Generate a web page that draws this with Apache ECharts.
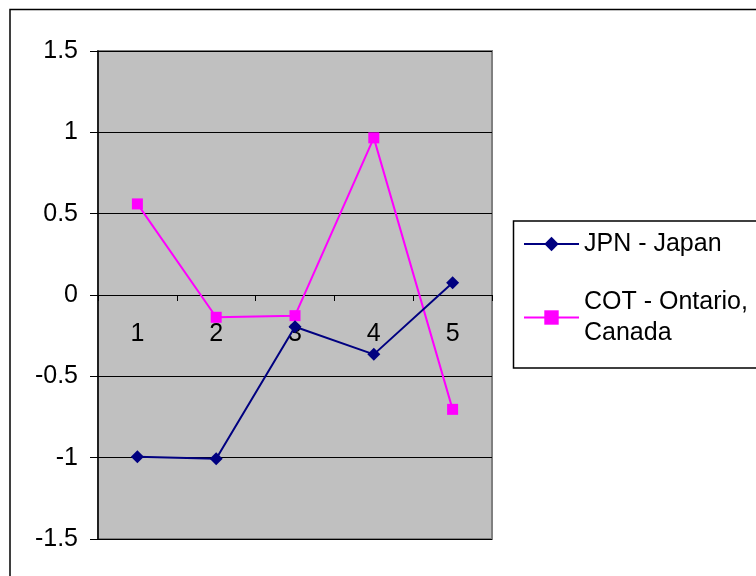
<!DOCTYPE html>
<html>
<head>
<meta charset="utf-8">
<script src="https://cdn.jsdelivr.net/npm/echarts@6/dist/echarts.min.js"></script>
<style>
  html, body { margin: 0; padding: 0; background: #fff; }
  #chart { width: 756px; height: 576px; }
</style>
</head>
<body>
<div id="chart"></div>
<script>
// Category labels along the zero line
const categories = ['1', '2', '3', '4', '5'];

// Series values
const jpnName = 'JPN - Japan';
const jpnValues = [-0.995, -1.007, -0.195, -0.365, 0.076];

const cotName = 'COT - Ontario, Canada';
const cotValues = [0.56, -0.137, -0.127, 0.966, -0.703];

// Value axis range and step
const yMin = -1.5;
const yMax = 1.5;
const yStep = 0.5;

const FONT = 'Liberation Sans, Arial, sans-serif';

// Plot rectangle
const gridTop = 51;
const gridBottom = 37;
const plotHeight = 576 - gridTop - gridBottom;
// lift the category axis from the bottom edge up to the zero line
const zeroLift = plotHeight * (0 - yMin) / (yMax - yMin);

const chart = echarts.init(document.getElementById('chart'), null, { renderer: 'canvas' });

chart.setOption({
  animation: false,
  backgroundColor: '#ffffff',
  textStyle: { fontFamily: FONT },
  graphic: [
    {
      // outer chart frame
      type: 'rect',
      shape: { x: 10, y: 9.5, width: 800, height: 620 },
      style: { fill: null, stroke: '#000', lineWidth: 1.5 },
      silent: true,
      z: -1
    },
    {
      // legend frame
      type: 'rect',
      shape: { x: 513.5, y: 221, width: 300, height: 147 },
      style: { fill: '#fff', stroke: '#000', lineWidth: 1.5 },
      silent: true,
      z: 0
    }
  ],
  grid: {
    left: 98,
    top: gridTop,
    right: 264,
    bottom: gridBottom,
    show: true,
    backgroundColor: '#C0C0C0',
    borderColor: '#808080',
    borderWidth: 2
  },
  legend: [
    {
      data: [jpnName],
      left: 523,
      top: 229,
      padding: 0,
      itemWidth: 55,
      itemHeight: 18,
      textStyle: { fontFamily: FONT, fontSize: 25, color: '#000', lineHeight: 30 },
      selectedMode: false,
      z: 5
    },
    {
      data: [cotName],
      left: 523,
      top: 271,
      padding: 0,
      itemWidth: 55,
      itemHeight: 18,
      formatter: function () { return 'COT - Ontario,\nCanada'; },
      textStyle: {
        fontFamily: FONT, fontSize: 25, color: '#000', lineHeight: 31,
        padding: [31, 0, 0, 0]
      },
      selectedMode: false,
      z: 5
    }
  ],
  xAxis: {
    type: 'category',
    data: categories,
    boundaryGap: true,
    position: 'bottom',
    offset: -zeroLift,
    axisLine: { onZero: false, lineStyle: { color: '#000', width: 1 } },
    axisTick: { show: true, length: 6, lineStyle: { color: '#000', width: 1 } },
    axisLabel: { color: '#000', fontSize: 25, fontFamily: FONT, margin: 27 },
    splitLine: { show: false }
  },
  yAxis: {
    type: 'value',
    min: yMin,
    max: yMax,
    interval: yStep,
    axisLine: { show: true, lineStyle: { color: '#000', width: 1.5 } },
    axisTick: { show: true, length: 8, lineStyle: { color: '#000', width: 1 } },
    axisLabel: { color: '#000', fontSize: 25, fontFamily: FONT, margin: 20, padding: [3, 0, 0, 0] },
    splitLine: { show: true, lineStyle: { color: '#000', width: 1 } }
  },
  series: [
    {
      name: jpnName,
      type: 'line',
      data: jpnValues,
      symbol: 'diamond',
      symbolSize: 13,
      showAllSymbol: true,
      color: '#000080',
      itemStyle: { color: '#000080' },
      lineStyle: { color: '#000080', width: 2 },
      z: 3
    },
    {
      name: cotName,
      type: 'line',
      data: cotValues,
      symbol: 'rect',
      symbolSize: 11,
      showAllSymbol: true,
      color: '#FF00FF',
      itemStyle: { color: '#FF00FF' },
      lineStyle: { color: '#FF00FF', width: 2 },
      z: 2
    }
  ]
});
</script>
</body>
</html>
